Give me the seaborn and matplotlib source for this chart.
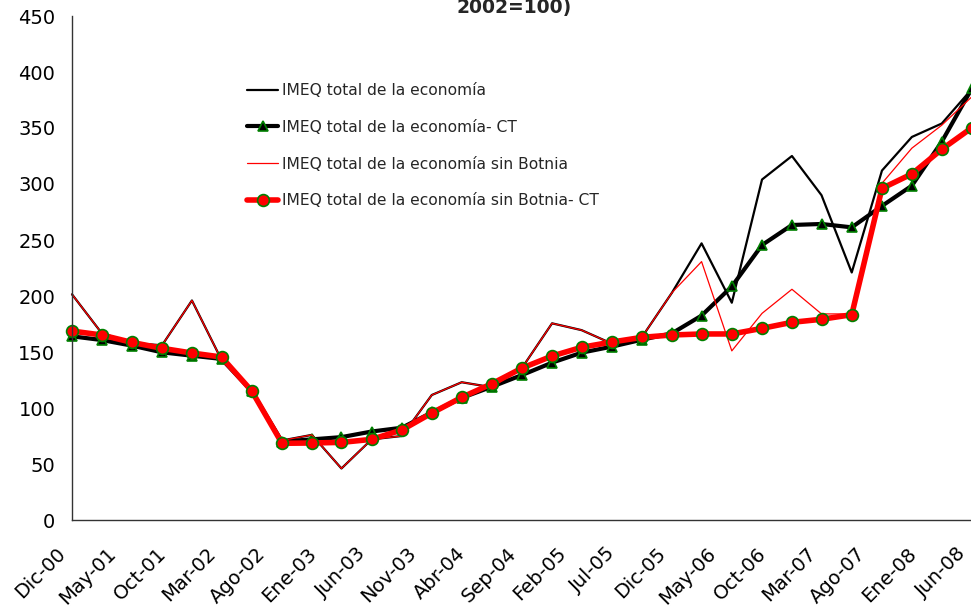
import numpy as np
import pandas as pd
import seaborn as sns
import matplotlib.pyplot as plt
from matplotlib.transforms import ScaledTranslation

# datos trimestrales Dic-00 .. Jun-08
fechas = pd.date_range("2000-12-01", periods=31, freq="3MS")

imeq_total = [201.5, 167, 158, 156, 196, 143, 116, 71, 76, 46, 72, 75, 111.6, 123, 118.5, 136,
              175.6, 169.5, 157.5, 163.5, 203, 247, 194, 304, 325, 290, 221, 312, 342, 354, 385]
imeq_total_ct = [164, 160.7, 155.7, 149.7, 146.7, 143.8, 115, 70, 72, 74, 79, 82.4, 96, 109, 119, 129.5,
                 140.5, 149.4, 154.8, 161, 166.7, 182.5, 208.5, 245.5, 263.4, 264.3, 261.3, 280.4, 298.5, 337.8, 385.5]
imeq_sb = [201.5, 167, 158, 156, 196, 143, 116, 71, 76, 46, 72, 75, 111.6, 123, 118.5, 136,
           175.6, 169.5, 157.5, 163.5, 203, 230.7, 151, 184.5, 206, 184, 184, 300.6, 332, 352.5, 378]
imeq_sb_ct = [168.7, 165.2, 158.6, 153.3, 149.1, 145.5, 115.2, 68.5, 68.75, 69.3, 72, 80.4, 95.5, 109.5, 121.7, 135.7,
              146.4, 154.2, 158.9, 163.1, 165.2, 166.1, 166.1, 171.1, 176.5, 179.2, 183.3, 296.1, 309, 331, 350.3]

tick_fechas = pd.date_range("2000-12-01", "2008-06-01", freq="5MS")
tick_labels = ["Dic-00", "May-01", "Oct-01", "Mar-02", "Ago-02", "Ene-03", "Jun-03", "Nov-03", "Abr-04",
               "Sep-04", "Feb-05", "Jul-05", "Dic-05", "May-06", "Oct-06", "Mar-07", "Ago-07", "Ene-08", "Jun-08"]

sns.set_style("white")
plt.rcParams['font.family'] = ['DejaVu Sans']

df = pd.DataFrame({"fecha": fechas,
                   "IMEQ total de la economía": imeq_total,
                   "IMEQ total de la economía- CT": imeq_total_ct,
                   "IMEQ total de la economía sin Botnia": imeq_sb,
                   "IMEQ total de la economía sin Botnia- CT": imeq_sb_ct})

fig = plt.figure(figsize=(9.71, 6.07), dpi=100)
ax = fig.add_axes([72/971, 87/607, 900/971, 504/607])

sns.lineplot(data=df, x="fecha", y="IMEQ total de la economía", ax=ax, color="black", lw=1.6,
             label="IMEQ total de la economía")
sns.lineplot(data=df, x="fecha", y="IMEQ total de la economía- CT", ax=ax, color="black", lw=3,
             marker="^", markersize=7.5, markerfacecolor="black", markeredgecolor="#008000",
             markeredgewidth=1.2, label="IMEQ total de la economía- CT")
sns.lineplot(data=df, x="fecha", y="IMEQ total de la economía sin Botnia", ax=ax, color="red", lw=0.9,
             label="IMEQ total de la economía sin Botnia")
sns.lineplot(data=df, x="fecha", y="IMEQ total de la economía sin Botnia- CT", ax=ax, color="red", lw=4,
             marker="o", markersize=8.5, markerfacecolor="red", markeredgecolor="#008000",
             markeredgewidth=1.2, label="IMEQ total de la economía sin Botnia- CT")

ax.set_xlim(fechas[0], fechas[-1])
ax.set_ylim(0, 450)
ax.set_yticks(np.arange(0, 451, 50))
ax.set_xticks(tick_fechas)
ax.set_xticklabels(tick_labels, rotation=45, ha="right", va="center", rotation_mode="anchor")
ax.tick_params(axis="both", direction="in", length=6, width=1, colors="#333333", labelcolor="black",
               labelsize=14)
ax.tick_params(axis="x", pad=14)
ax.tick_params(axis="y", pad=12)
ax.set_xlabel("")
ax.set_ylabel("")
sns.despine(ax=ax)
for s in ["left", "bottom"]:
    ax.spines[s].set_color("#333333")
    ax.spines[s].set_linewidth(1)
for line in ax.get_lines():
    line.set_clip_on(False)

# bajar y correr a la izquierda las etiquetas del eje x
desplazo = ScaledTranslation(-9/100, -11/100, fig.dpi_scale_trans)
for lab in ax.get_xticklabels():
    lab.set_transform(lab.get_transform() + desplazo)

ax.legend(loc="upper left", bbox_to_anchor=(247/971, 1 - 83/607), bbox_transform=fig.transFigure,
          frameon=False, fontsize=11.2, handlelength=2.0, handletextpad=0.25, labelspacing=1.4,
          borderpad=0, borderaxespad=0)

fig.text(514/971, 1 - 13.5/607, "2002=100)", ha="center", va="baseline", fontsize=13.5, fontweight="bold")

fig.savefig("out.png", dpi=100)
